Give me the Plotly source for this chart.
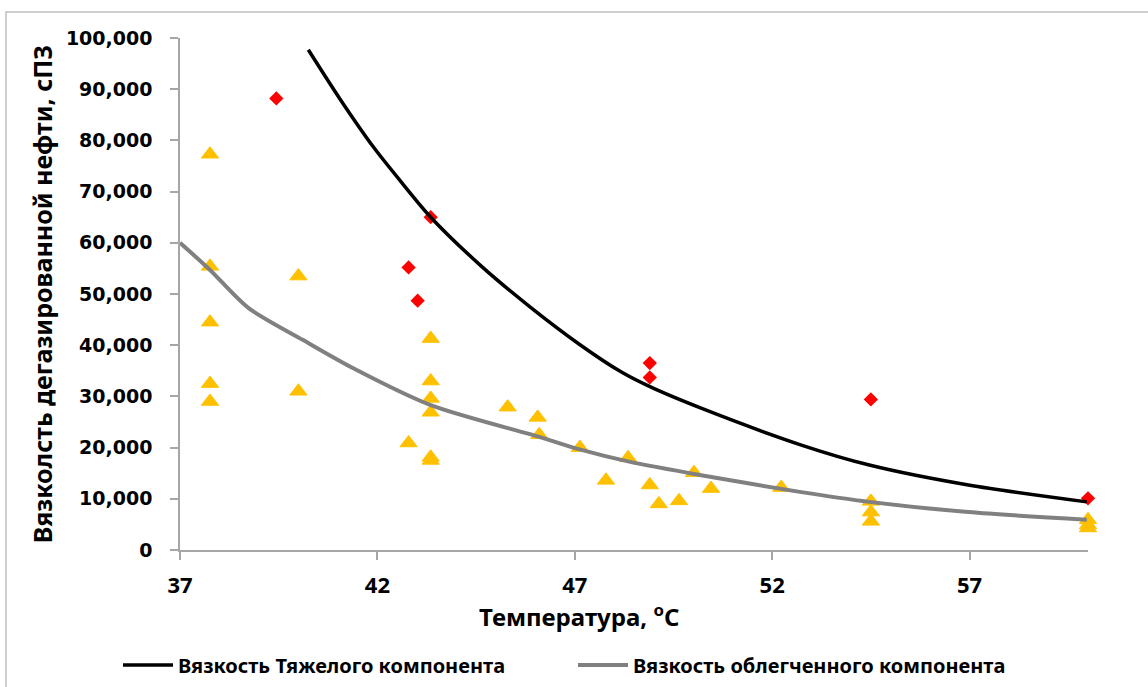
import plotly.graph_objects as go

# Measured points: heavy component (red diamonds)
heavy_T = [39.44, 43.35, 42.79, 43.02, 48.9, 48.9, 54.5, 60.0]
heavy_V = [88200, 65000, 55200, 48700, 36500, 33700, 29400, 10100]

# Measured points: light component (yellow triangles)
light_T = [37.76, 37.76, 37.76, 37.76, 37.76,
           40.0, 40.0,
           42.79, 43.35, 43.35, 43.35, 43.35, 43.35, 43.35,
           45.3, 46.06, 46.1, 47.13, 47.79, 48.35, 48.9, 49.13, 49.64, 50.02, 50.45,
           52.23, 54.5, 54.5, 54.5, 60.0, 60.0, 60.0]
light_V = [77300, 55400, 44500, 32500, 29000,
           53500, 31000,
           20900, 41300, 33000, 29600, 26900, 18100, 17500,
           27900, 25900, 22500, 20000, 13600, 18000, 12700, 9000, 9600, 15100, 12000,
           12200, 9500, 7400, 5600, 5900, 4900, 4300]

# Fitted curves
heavy_curve_T = [40.25, 41.06, 41.9, 42.58, 43.35, 44.61, 45.88, 47.15, 48.17, 48.93, 50.2, 52.74, 54.46, 56.97, 59.97]
heavy_curve_V = [97700, 88000, 78700, 72100, 65000, 55600, 47400, 40000, 34800, 31800, 27700, 20500, 16600, 12700, 9400]

light_curve_T = [37.0, 37.76, 38.73, 40.12, 41.39, 43.35, 46.1, 47.1, 48.35, 50.2, 52.74, 54.46, 56.97, 59.97]
light_curve_V = [60000, 54700, 47300, 41000, 35500, 28300, 22100, 19700, 17300, 14600, 11300, 9400, 7400, 5900]

x_ticks = [37, 42, 47, 52, 57]

fig = go.Figure()
fig.add_trace(go.Scatter(x=light_T, y=light_V, mode="markers", showlegend=False, cliponaxis=False,
                         marker=dict(symbol="triangle-up", size=15, color="#FFC000",
                                     line=dict(color="#FFC000", width=1))))
fig.add_trace(go.Scatter(x=heavy_T, y=heavy_V, mode="markers", showlegend=False, cliponaxis=False,
                         marker=dict(symbol="diamond", size=11, color="#FF0000")))
fig.add_trace(go.Scatter(x=heavy_curve_T, y=heavy_curve_V, mode="lines",
                         name="Вязкость Тяжелого компонента", legend="legend",
                         line=dict(color="#000000", width=3.5, shape="spline", smoothing=0.8)))
fig.add_trace(go.Scatter(x=light_curve_T, y=light_curve_V, mode="lines",
                         name="Вязкость облегченного компонента", legend="legend2",
                         line=dict(color="#808080", width=4, shape="spline", smoothing=0.8)))

axis_col = "#a6a6a6"
W, H = 1148, 687
L, R, T, B = 180, 60, 38, 137
pw, ph = W - L - R, H - T - B

leg_common = dict(orientation="h", xref="container", yref="container",
                  y=1 - 665 / H, xanchor="left", yanchor="middle",
                  font=dict(family="Noto Sans", size=20, weight="bold"),
                  itemwidth=50, bgcolor="rgba(0,0,0,0)")

fig.update_layout(
    width=W, height=H,
    margin=dict(l=L, r=R, t=T, b=B),
    paper_bgcolor="white", plot_bgcolor="white",
    font=dict(family="Noto Sans", color="black"),
    xaxis=dict(range=[37, 60], tickmode="array", tickvals=x_ticks,
               ticktext=[str(v) for v in x_ticks],
               showgrid=False, zeroline=False, showline=True, linecolor=axis_col, linewidth=1.5,
               ticks="outside", ticklen=8, tickcolor=axis_col, tickwidth=1.5,
               tickfont=dict(family="Noto Sans", size=22, weight="bold"),
               ticklabelstandoff=7),
    yaxis=dict(range=[0, 100000], dtick=10000, tickformat=",d",
               showgrid=False, zeroline=False, showline=True, linecolor=axis_col, linewidth=1.5,
               ticks="outside", ticklen=8, tickcolor=axis_col, tickwidth=1.5,
               tickfont=dict(family="DejaVu Sans", size=19, weight="bold"),
               ticklabelstandoff=14,
               title=dict(text="Вязколсть дегазированной нефти, сПЗ", standoff=6,
                          font=dict(family="Noto Sans", size=25, weight="bold"))),
    annotations=[dict(text="Температура, <sup>o</sup>C", xref="paper", yref="paper",
                      x=(579 - L) / pw, y=(H - B - 615) / ph, xanchor="center", yanchor="middle",
                      showarrow=False, font=dict(family="Noto Sans", size=24, weight="bold"))],
    legend=dict(x=118 / W, **leg_common),
    legend2=dict(x=573 / W, **leg_common),
    shapes=[dict(type="rect", xref="paper", yref="paper",
                 x0=(6 - L) / pw, x1=(1170 - L) / pw,
                 y0=(H - T - B - (700 - T)) / ph, y1=(H - B - 12) / ph,
                 line=dict(color="#bfbfbf", width=1.5), fillcolor="rgba(0,0,0,0)", layer="below")],
)

fig.write_html("out.html")
